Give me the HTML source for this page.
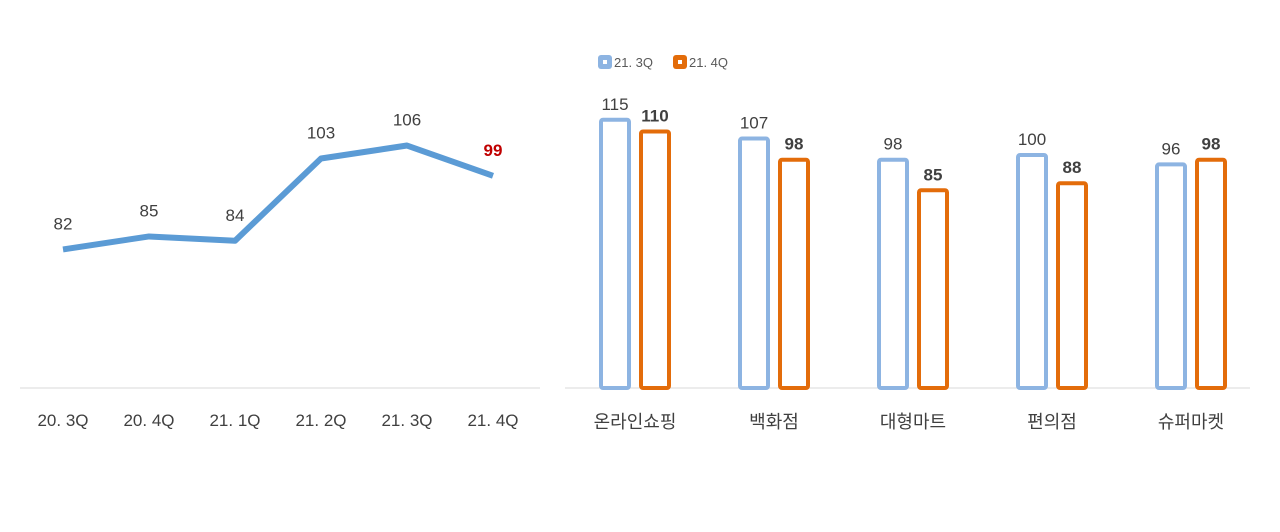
<!DOCTYPE html>
<html><head><meta charset="utf-8"><style>
body{margin:0;background:#fff;width:1280px;height:527px;overflow:hidden}
svg text{font-family:"Liberation Sans","Noto Sans CJK KR",sans-serif}
</style></head><body>
<svg width="1280" height="527">
<g id="line"></g>
<g id="bar"></g>
</svg>
<script>
const lineCats=["20. 3Q","20. 4Q","21. 1Q","21. 2Q","21. 3Q","21. 4Q"];
const lineVals=[82,85,84,103,106,99];
const barCats=["온라인쇼핑","백화점","대형마트","편의점","슈퍼마켓"];
const s3Q=[115,107,98,100,96];
const s4Q=[110,98,85,88,98];
const NS="http://www.w3.org/2000/svg";
function mk(p,t,a,txt){const e=document.createElementNS(NS,t);for(const k in a)e.setAttribute(k,a[k]);if(txt!=null)e.textContent=txt;p.appendChild(e);return e;}
const L=document.getElementById('line'),B=document.getElementById('bar');
// line chart
const lx=i=>63+i*86, ly=v=>388-(v-50)*4.33;
let ax=mk(L,'line',{x1:20,x2:540,y1:388,y2:388,stroke:'#d9d9d9','stroke-width':1});

let pl=mk(L,'polyline',{points:lineVals.map((v,i)=>lx(i)+','+ly(v)).join(' '),fill:'none',stroke:'#5b9bd5','stroke-width':6,'stroke-linejoin':'round'});

lineVals.forEach((v,i)=>{
 const last=i===lineVals.length-1;
 let t=mk(L,'text',{x:lx(i),y:ly(v)-20,'text-anchor':'middle','font-size':17,fill:last?'#c00000':'#404040','font-weight':last?'bold':'normal'},v);
 
 let c=mk(L,'text',{x:lx(i),y:426,'text-anchor':'middle','font-size':17,fill:'#404040'},lineCats[i]);
 
});
// bar chart
const by=v=>388-v*2.35, gx=i=>599+i*139;
let bx=mk(B,'line',{x1:565,x2:1250,y1:388,y2:388,stroke:'#d9d9d9','stroke-width':1});

barCats.forEach((c,i)=>{
 [[s3Q,'#8db4e2',0,'normal'],[s4Q,'#e36c0a',40,'bold']].forEach(([arr,col,off,fw])=>{
  const v=arr[i],x=gx(i)+off;
  let r=mk(B,'rect',{x:x+2,y:by(v)+2,width:28,height:388-by(v)-2,fill:'#fff',stroke:col,'stroke-width':4,rx:2});
  
  let t=mk(B,'text',{x:x+16,y:by(v)-8,'text-anchor':'middle','font-size':17,fill:'#404040','font-weight':fw},v);
  
 });
 let t=mk(B,'text',{x:gx(i)+36,y:428,'text-anchor':'middle','font-size':18,fill:'#404040'},c);
 
});
[['#8db4e2',598,'21. 3Q'],['#e36c0a',673,'21. 4Q']].forEach(([col,x,lab])=>{
 let g=mk(B,'g',{});
 
 mk(g,'rect',{x:x,y:55,width:14,height:14,rx:3,fill:col});
 mk(g,'rect',{x:x+5,y:60,width:4,height:4,fill:'#fff'});
 mk(g,'text',{x:x+16,y:67,'font-size':13,fill:'#595959'},lab);
});
</script>
</body></html>
